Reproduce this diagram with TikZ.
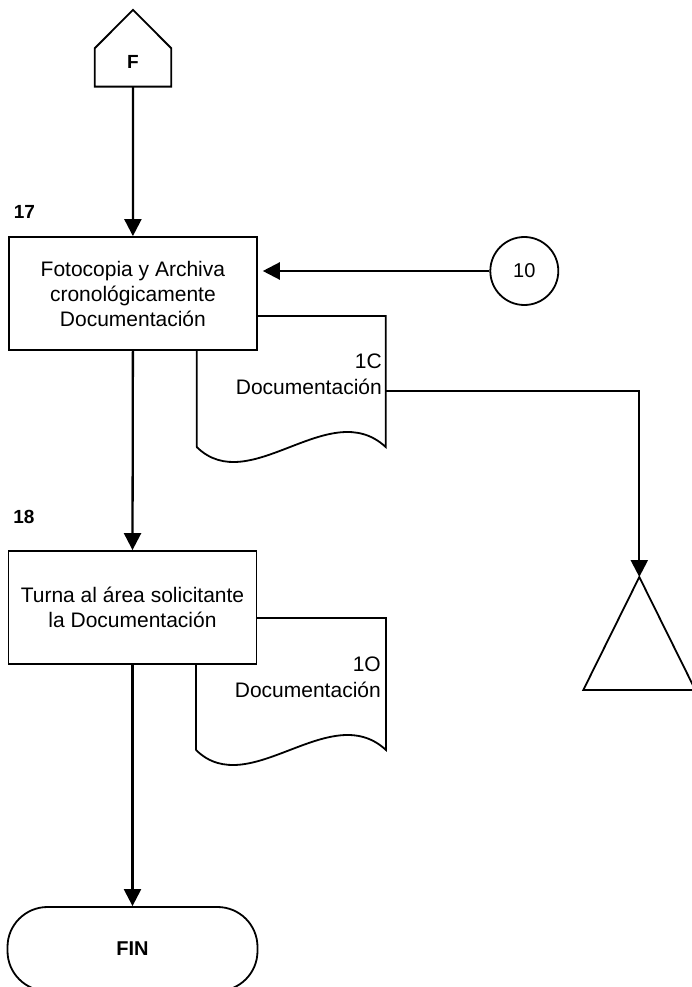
\documentclass[tikz,border=0pt]{standalone}
\usepackage{fontspec}
\setmainfont{Liberation Sans}
\usetikzlibrary{arrows.meta,calc}
\begin{document}
\begin{tikzpicture}[x=1pt,y=-1pt,
  shapeline/.style={line width=1.8pt},
  procbox/.style={shapeline,draw,fill=white,minimum width=248pt,minimum height=113pt,
    align=center,inner sep=0pt,font=\fontsize{21}{25}\selectfont},
  conn/.style={line width=2.3pt,-{Triangle[length=17pt,width=17pt]}},
  steplbl/.style={font=\fontsize{19}{22}\selectfont\bfseries,inner sep=0pt},
  doctxt/.style={font=\fontsize{21}{26}\selectfont,align=right,inner sep=0pt,anchor=east},
  ghost/.style={inner sep=0pt,outer sep=0pt}
]
\useasboundingbox (0,0) rectangle (692,987);
\fill[white] (0,0) rectangle (692,987);

% off-page connector F
\node[ghost,minimum width=76.6pt,minimum height=76.7pt] (F) at (133,48.3) {};
\draw[shapeline,line join=miter] (F.south west) -- (F.west) -- (F.north) -- (F.east) -- (F.south east) -- cycle;
\node[steplbl] (Ftxt) at (133,62) {F};

% document 1C (behind box 17)
\node[ghost,minimum width=189pt,minimum height=131pt] (doc1) at (291.2,381.5) {};
\draw[shapeline] (doc1.south west) -- (doc1.north west) -- (doc1.north east) -- (doc1.south east)
  .. controls ($(doc1.south east)+(-56,-52)$) and ($(doc1.south west)+(53,52)$) .. (doc1.south west);
\node[doctxt] (doc1t) at (382,374.5) {1C\\Documentación};

% document 1O (behind box 18)
\node[ghost,minimum width=190pt,minimum height=132pt] (doc2) at (291,684) {};
\draw[shapeline] (doc2.south west) -- (doc2.north west) -- (doc2.north east) -- (doc2.south east)
  .. controls ($(doc2.south east)+(-56,-52)$) and ($(doc2.south west)+(53,52)$) .. (doc2.south west);
\node[doctxt] (doc2t) at (381,677) {1O\\Documentación};

% process boxes
\node[procbox] (b17) at (132.9,293.5) {Fotocopia y Archiva\\cronológicamente\\Documentación};
\node[steplbl] (l17) at (24.5,212) {17};
\node[procbox] (b18) at (132.5,607.5) {Turna al área solicitante\\la Documentación};
\node[steplbl] (l18) at (24,517) {18};

% connector circle 10
\node[shapeline,draw,circle,minimum size=68pt,inner sep=0pt,font=\fontsize{20}{24}\selectfont] (c10) at (524.3,271) {10};

% archive triangle
\node[ghost,minimum width=112pt,minimum height=113pt] (tri) at (639.3,633.5) {};
\draw[shapeline,line join=miter] (tri.north) -- (tri.south east) -- (tri.south west) -- cycle;

% terminal FIN
\node[shapeline,draw,rounded corners=40pt,minimum width=250pt,minimum height=84pt,
  font=\fontsize{20}{24}\selectfont\bfseries] (fin) at (132.5,949) {FIN};

% connectors
\draw[conn] (F.south) -- (b17.north);
\draw[conn] (c10.west) -- ($(b17.east |- c10.west)+(5,0)$);
\draw[conn] (b17.south) -- (b18.north);
\draw[conn] (b18.south) -- (fin.north);
\draw[conn] ($(doc1.east)+(0,9.2)$) -| (tri.north);
\end{tikzpicture}
\end{document}
